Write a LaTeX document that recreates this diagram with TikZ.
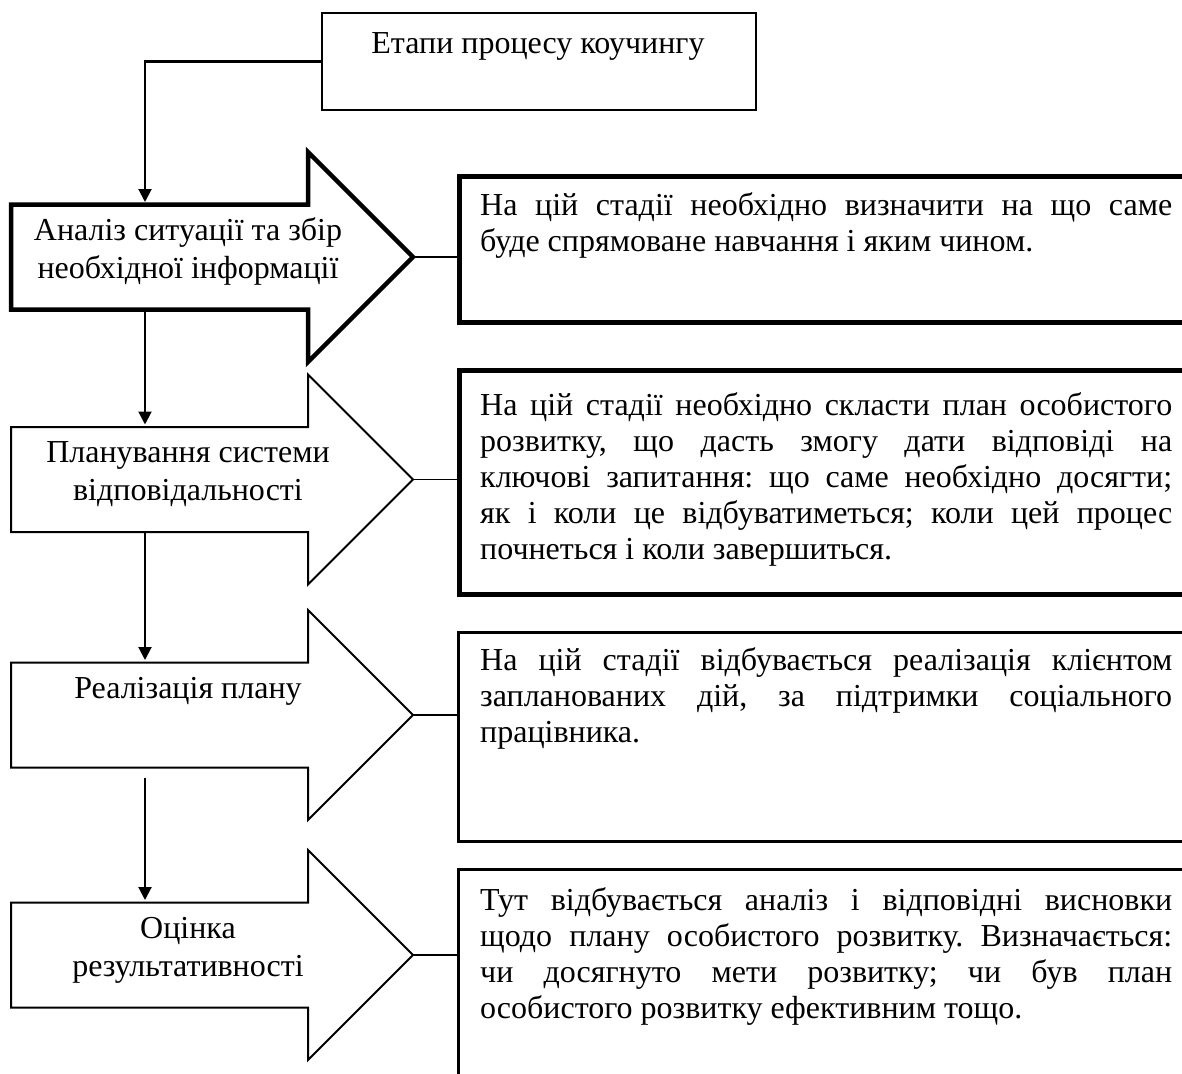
\documentclass[tikz,border=0pt]{standalone}
\usepackage{fontspec}
\setmainfont{Liberation Serif}
\usetikzlibrary{arrows.meta}
\frenchspacing
\newcommand\stagearrow[3]{%
  \draw[#3, line join=miter, fill=white]
    (11,#2-52.5) -- (308,#2-52.5) -- (308,#2-105) -- (413,#2) --
    (308,#2+105) -- (308,#2+52.5) -- (11,#2+52.5) -- cycle;
  \coordinate (#1-in) at (145,#2-55);
  \coordinate (#1-bot) at (145,#2+52.5);
  \coordinate (#1-gap) at (145,#2+62.5);
  \coordinate (#1-tip) at (413,#2);
}
\newcommand\jline[1]{\hbox{\makebox[692pt][s]{#1}}}
\newcommand\pline[1]{\hbox{#1}}
\newcommand\ctrline[1]{\hbox to 0pt{\hss#1\hss}}
\begin{document}
\begin{tikzpicture}[x=1pt,y=-1pt,
  thickline/.style={line width=4.5pt},
  thinline/.style={line width=2pt},
  descbox/.style={draw, anchor=north west, inner sep=0pt, minimum width=800pt},
  flow/.style={line width=2pt, -{Triangle[length=13pt,width=13pt]}},
  link/.style={line width=1.2pt},
  labeltext/.style={font=\fontsize{32}{38}\selectfont, anchor=base, inner sep=0pt},
  desctext/.style={font=\fontsize{32}{36}\selectfont, anchor=base west, inner sep=0pt}]
\useasboundingbox (0,0) rectangle (1182,1073);
\clip (0,0) rectangle (1182,1073);

% title box
\node[draw, line width=2pt, anchor=north west, inner sep=0pt,
      minimum width=434pt, minimum height=97pt] (top) at (321,12) {};
\node[labeltext] (toptext) at (538,53) {Етапи процесу коучингу};

% stage arrows
\stagearrow{a1}{257}{thickline}
\stagearrow{a2}{479.5}{thinline}
\stagearrow{a3}{715}{thinline}
\stagearrow{a4}{955}{thinline}

\node[labeltext] (a1text) at (188,240) {\vtop{\ctrline{Аналіз ситуації та збір}\ctrline{необхідної інформації}}};
\node[labeltext] (a2text) at (188,462) {\vtop{\ctrline{Планування системи}\ctrline{відповідальності}}};
\node[labeltext] (a3text) at (188,698) {Реалізація плану};
\node[labeltext] (a4text) at (188,938) {\vtop{\ctrline{Оцінка}\ctrline{результативності}}};

% description boxes
\node[descbox, thickline, minimum height=146pt] (d1) at (457,174) {};
\node[descbox, thickline, minimum height=224pt] (d2) at (457,368) {};
\node[descbox, line width=2.5pt, minimum height=209pt] (d3) at (457,631) {};
\node[descbox, line width=2.5pt, minimum height=300pt] (d4) at (457,868) {};

\node[desctext] (d1text) at (480,215) {\vtop{%
\jline{На цій стадії необхідно визначити на що саме}
\pline{буде спрямоване навчання і яким чином.}}};
\node[desctext] (d2text) at (480,415) {\vtop{%
\jline{На цій стадії необхідно скласти план особистого}
\jline{розвитку, що дасть змогу дати відповіді на}
\jline{ключові запитання: що саме необхідно досягти;}
\jline{як і коли це відбуватиметься; коли цей процес}
\pline{почнеться і коли завершиться.}}};
\node[desctext] (d3text) at (480,670) {\vtop{%
\jline{На цій стадії відбувається реалізація клієнтом}
\jline{запланованих дій, за підтримки соціального}
\pline{працівника.}}};
\node[desctext] (d4text) at (480,910) {\vtop{%
\jline{Тут відбувається аналіз і відповідні висновки}
\jline{щодо плану особистого розвитку. Визначається:}
\jline{чи досягнуто мети розвитку; чи був план}
\pline{особистого розвитку ефективним тощо.}}};

% connectors
\draw[flow] (top.west) -| (a1-in);
\draw[flow] (a1-bot) -- (a2-in);
\draw[flow] (a2-bot) -- (a3-in);
\draw[flow] (a3-gap) -- (a4-in);

\draw[link] (a1-tip) -- (a1-tip -| d1.west);
\draw[link] (a2-tip) -- (a2-tip -| d2.west);
\draw[link] (a3-tip) -- (a3-tip -| d3.west);
\draw[link] (a4-tip) -- (a4-tip -| d4.west);
\end{tikzpicture}
\end{document}
